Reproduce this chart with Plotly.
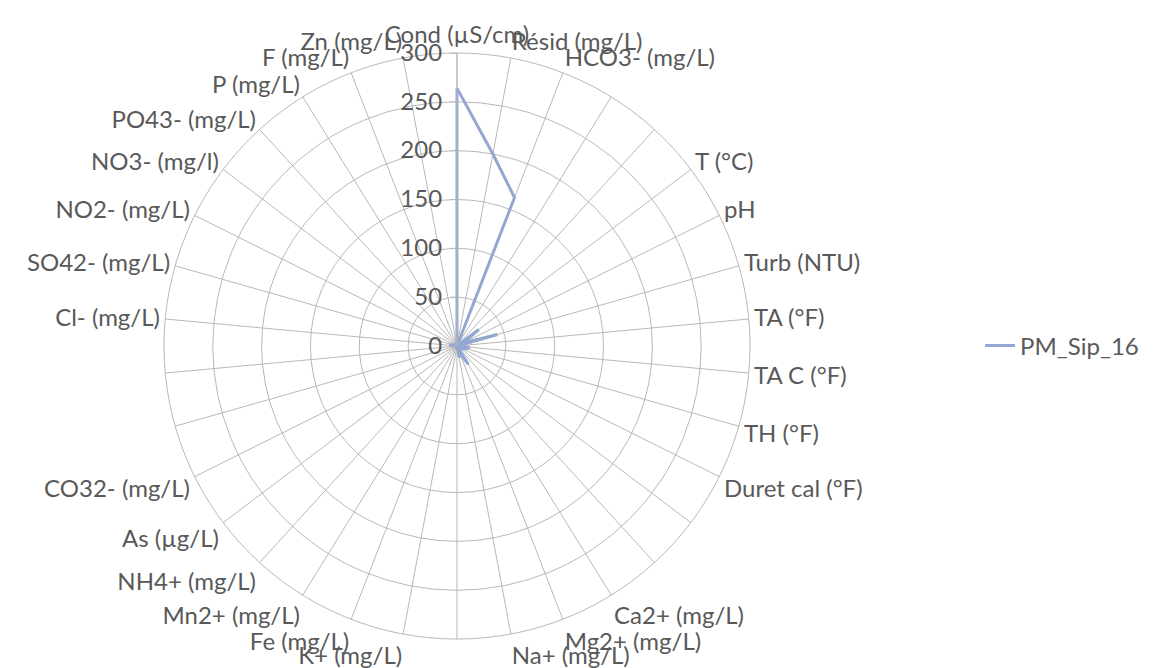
import plotly.graph_objects as go

# Parameter names, clockwise from the top; empty strings are unlabelled spokes
labels = [
    "Cond (µS/cm)", "Résid (mg/L)", "HCO3- (mg/L)", "", "", "T (°C)", "pH",
    "Turb (NTU)", "TA (°F)", "TA C (°F)", "TH (°F)", "Duret cal (°F)", "", "",
    "Ca2+ (mg/L)", "Mg2+ (mg/L)", "Na+ (mg/L)", "", "K+ (mg/L)", "Fe (mg/L)",
    "Mn2+ (mg/L)", "NH4+ (mg/L)", "As (µg/L)", "CO32- (mg/L)", "", "",
    "Cl- (mg/L)", "SO42- (mg/L)", "NO2- (mg/L)", "NO3- (mg/l)", "PO43- (mg/L)",
    "P (mg/L)", "F (mg/L)", "Zn (mg/L)",
]

# Measured values for sample PM_Sip_16
pm_sip_16 = [
    264, 200, 163, 0, 0, 28, 7,
    43, 0, 13, 10, 6, 0, 0,
    22, 8, 12, 0, 3, 0.2,
    0.1, 0.5, 1, 0, 0, 0,
    8, 5, 0.1, 3, 0.5,
    0.2, 0.3, 0.1,
]

series_name = "PM_Sip_16"
radial_ticks = [0, 50, 100, 150, 200, 250, 300]

# category names must be unique, so blank spokes get distinct whitespace keys
categories = [lab if lab else " " * (i + 1) for i, lab in enumerate(labels)]

GRID = "#b8b8b8"
TEXT = "#595959"
FONT = "Lato"
SIZE = 24

fig = go.Figure()
fig.add_trace(go.Scatterpolar(
    r=pm_sip_16 + pm_sip_16[:1],
    theta=categories + categories[:1],
    mode="lines",
    name=series_name,
    line=dict(color="#94a7d0", width=3),
))

fig.update_layout(
    width=1153,
    height=668,
    margin=dict(l=0, r=0, t=0, b=0),
    paper_bgcolor="white",
    plot_bgcolor="white",
    font=dict(family=FONT, size=SIZE, color=TEXT),
    showlegend=True,
    legend=dict(
        x=0.85, y=0.482, xanchor="left", yanchor="middle",
        font=dict(family=FONT, size=SIZE, color=TEXT),
        bgcolor="rgba(0,0,0,0)",
    ),
    polar=dict(
        domain=dict(x=[0.1422, 0.6505], y=[0.0433, 0.9207]),
        bgcolor="white",
        angularaxis=dict(
            type="category",
            categoryorder="array",
            categoryarray=categories,
            rotation=90,
            direction="clockwise",
            showgrid=True,
            gridcolor=GRID,
            gridwidth=1,
            showline=True,
            linecolor=GRID,
            linewidth=1,
            ticks="",
            tickfont=dict(family=FONT, size=SIZE, color=TEXT),
        ),
        radialaxis=dict(
            range=[0, 300],
            tickvals=radial_ticks,
            angle=90,
            side="counterclockwise",
            tickangle=90,
            showgrid=True,
            gridcolor=GRID,
            gridwidth=1,
            showline=True,
            linecolor=GRID,
            linewidth=1,
            ticks="outside",
            ticklen=6,
            tickcolor=GRID,
            tickfont=dict(family=FONT, size=SIZE, color=TEXT),
        ),
    ),
)

fig.write_html("out.html")
